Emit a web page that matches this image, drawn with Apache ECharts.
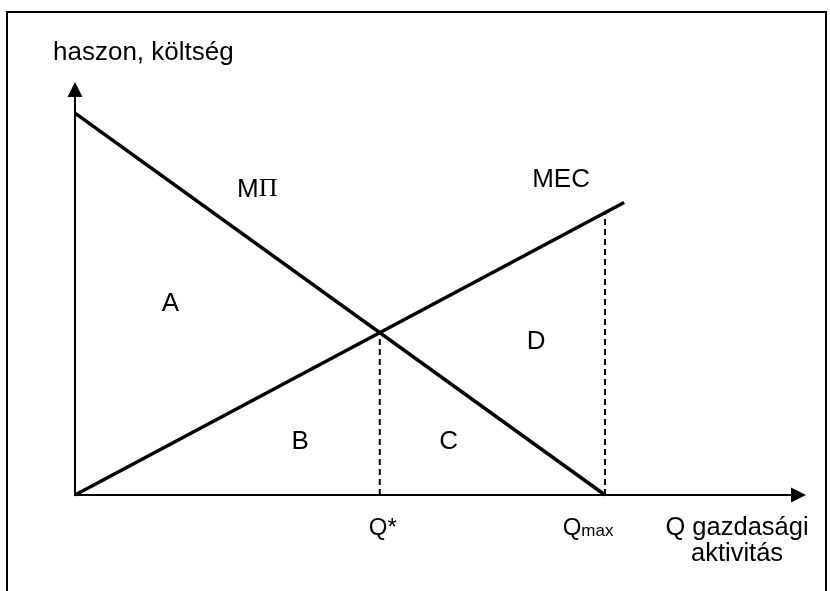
<!DOCTYPE html>
<html lang="hu">
<head>
  <meta charset="utf-8">
  <title>MΠ és MEC</title>
  <script src="https://cdn.jsdelivr.net/npm/echarts@6/dist/echarts.min.js"></script>
  <style>
    * { margin: 0; padding: 0; }
    html, body, #chart { width: 100%; height: 100%; overflow: hidden; background: #fff; }
  </style>
</head>
<body>
  <div id="chart"></div>
  <script>
    // görbék (Q, érték)
    var mpiX = [0, 10];
    var mpiY = [10, 0];
    var mecX = [0, 10.36];
    var mecY = [0, 7.66];

    // Q* és Qmax, szaggatott vonalak magassága
    var qStar = 5.75, qStarTop = 4.25;
    var qMax = 10, qMaxTop = 7.39;

    // területek betűi
    var areaNames = ['A', 'B', 'C', 'D'];
    var areaX = [1.8, 4.25, 7.05, 8.7];
    var areaY = [5.0, 1.4, 1.4, 4.0];

    // görbék nevei
    var curveNames = ['{m|M}{p|Π}', 'MEC'];
    var curveX = [3.44, 9.17];
    var curveY = [8.0, 8.25];

    var XMAX = 13.65, YMAX = 10.62;
    var FONT = '"Liberation Sans", Arial, sans-serif';

    function pairs(xs, ys) {
      return xs.map(function (x, i) { return [x, ys[i]]; });
    }

    var labelBase = { show: true, position: 'inside', color: '#000', opacity: 1, fontFamily: FONT, fontSize: 26 };
    var noSymbol = { color: '#000', opacity: 1 };

    var option = {
      animation: false,
      grid: { left: 75, right: 31.5, top: 89.5, bottom: 96 },
      xAxis: {
        type: 'value', min: 0, max: XMAX,
        axisLine: { show: true, symbol: ['none', 'triangle'], symbolSize: [15, 15], lineStyle: { color: '#000', width: 2 } },
        axisTick: { show: false }, axisLabel: { show: false }, splitLine: { show: false }
      },
      yAxis: {
        type: 'value', min: 0, max: YMAX,
        axisLine: { show: true, symbol: ['none', 'triangle'], symbolSize: [15, 15], lineStyle: { color: '#000', width: 2 } },
        axisTick: { show: false }, axisLabel: { show: false }, splitLine: { show: false }
      },
      graphic: [
        { type: 'rect', shape: { x: 7, y: 12, width: 819, height: 620 }, style: { fill: 'none', stroke: '#000', lineWidth: 2 } },
        { type: 'text', x: 53, y: 53, style: { text: 'haszon, költség', font: '26px ' + FONT, fill: '#000', verticalAlign: 'middle' } },
        { type: 'text', x: 737, y: 515, style: { text: 'Q gazdasági\naktivitás', font: '25.5px ' + FONT, fill: '#000', align: 'center', verticalAlign: 'top', lineHeight: 26 } }
      ],
      series: [
        { type: 'line', data: pairs(mpiX, mpiY), symbol: 'none', lineStyle: { color: '#000', width: 3.5 } },
        { type: 'line', data: pairs(mecX, mecY), symbol: 'none', lineStyle: { color: '#000', width: 3.5 } },
        { type: 'line', data: [[qStar, 0], [qStar, qStarTop]], symbol: 'none', lineStyle: { color: '#000', width: 2, type: [6, 4] } },
        { type: 'line', data: [[qMax, 0], [qMax, qMaxTop]], symbol: 'none', lineStyle: { color: '#000', width: 2, type: [6, 4] } },
        {
          type: 'scatter', symbolSize: 0, silent: true, itemStyle: noSymbol,
          data: pairs(areaX, areaY).map(function (p, i) { return { value: p, name: areaNames[i] }; }),
          label: Object.assign({}, labelBase, { formatter: '{b}' })
        },
        {
          type: 'scatter', symbolSize: 0, silent: true, itemStyle: noSymbol,
          data: pairs(curveX, curveY).map(function (p, i) { return { value: p, name: curveNames[i] }; }),
          label: Object.assign({}, labelBase, {
            formatter: '{b}',
            rich: {
              m: { fontFamily: FONT, fontSize: 26, color: '#000' },
              p: { fontFamily: '"Liberation Serif", "Times New Roman", serif', fontSize: 26, color: '#000' }
            }
          })
        },
        {
          type: 'scatter', symbolSize: 0, silent: true, itemStyle: noSymbol,
          data: [
            { value: [qStar, 0], label: { formatter: 'Q*', offset: [3, 33] } },
            { value: [qMax, 0], label: { formatter: '{q|Q}{s|max}', offset: [-17, 33] } }
          ],
          label: Object.assign({}, labelBase, {
            fontSize: 24,
            rich: {
              q: { fontFamily: FONT, fontSize: 24, color: '#000' },
              s: { fontFamily: FONT, fontSize: 17, color: '#000', verticalAlign: 'bottom' }
            }
          })
        }
      ]
    };

    var chart = echarts.init(document.getElementById('chart'));
    chart.setOption(option);
  </script>
</body>
</html>
